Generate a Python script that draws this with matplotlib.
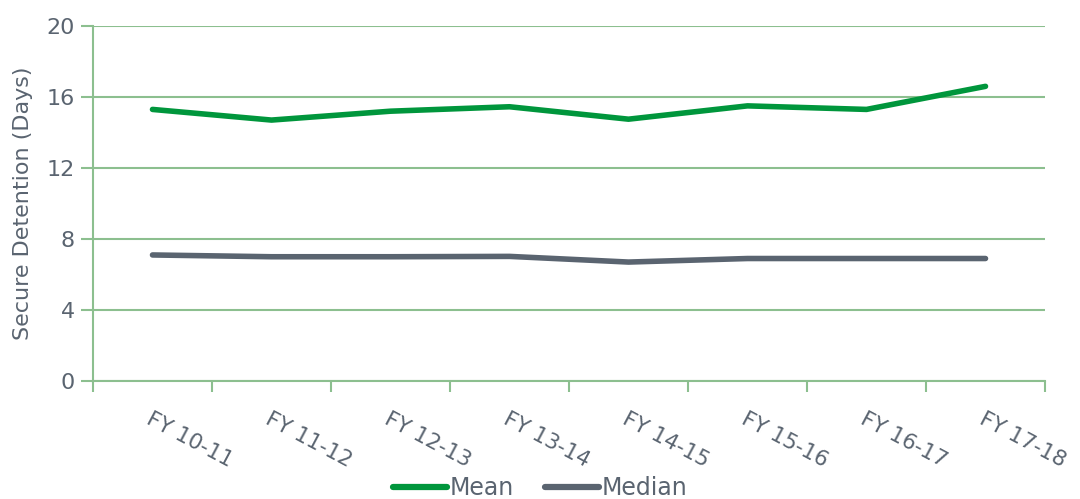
import matplotlib
matplotlib.use("Agg")
import matplotlib.pyplot as plt
from matplotlib.ticker import FixedLocator

categories = ["FY 10-11", "FY 11-12", "FY 12-13", "FY 13-14",
              "FY 14-15", "FY 15-16", "FY 16-17", "FY 17-18"]
mean_vals = [15.3, 14.7, 15.2, 15.45, 14.75, 15.5, 15.3, 16.6]
median_vals = [7.1, 7.0, 7.0, 7.02, 6.7, 6.9, 6.9, 6.9]
y_ticks = [0, 4, 8, 12, 16, 20]

TEXT = "#5a6470"
GRID = "#8cbf8f"
MEAN_C = "#00963c"
MED_C = "#5a6470"

plt.rcParams['font.family'] = ['DejaVu Sans']

fig = plt.figure(figsize=(10.8, 4.99), dpi=100)
ax = fig.add_axes([0.0861, 0.2365, 0.8815, 0.7114])

x = list(range(len(categories)))
ax.plot(x, mean_vals, color=MEAN_C, lw=4, solid_capstyle='round', label="Mean")
ax.plot(x, median_vals, color=MED_C, lw=4, solid_capstyle='round', label="Median")

ax.set_xlim(-0.5, len(categories) - 0.5)
ax.set_ylim(0, 20)
ax.set_yticks(y_ticks)
ax.yaxis.grid(True, color=GRID, lw=1.5)
ax.set_axisbelow(True)

ax.set_xticks(x)
ax.set_xticklabels(categories, rotation=-28, ha='left', va='top',
                   rotation_mode='anchor', color=TEXT, fontsize=15.5)
ax.tick_params(axis='x', which='major', length=0, pad=20)
ax.xaxis.set_minor_locator(FixedLocator([i - 0.5 for i in range(len(categories) + 1)]))
ax.tick_params(axis='x', which='minor', length=8, width=1.5, color=GRID)
ax.tick_params(axis='y', length=9, width=1.5, color=GRID, labelcolor=TEXT,
               labelsize=16, pad=4)

for s in ['top', 'right']:
    ax.spines[s].set_visible(False)
ax.spines['left'].set_color(GRID)
ax.spines['left'].set_linewidth(1.5)
ax.spines['bottom'].set_color(GRID)
ax.spines['bottom'].set_linewidth(1.5)

ax.set_ylabel("Secure Detention (Days)", color=TEXT, fontsize=16, labelpad=10)

leg = fig.legend(loc='lower center', bbox_to_anchor=(0.5, -0.045), ncol=2,
                 frameon=False, fontsize=17, handlelength=2.3, handletextpad=0.1,
                 columnspacing=1.3)
for line in leg.get_lines():
    line.set_linewidth(4.5)
for t in leg.get_texts():
    t.set_color(TEXT)

fig.savefig("out.png", dpi=100)
